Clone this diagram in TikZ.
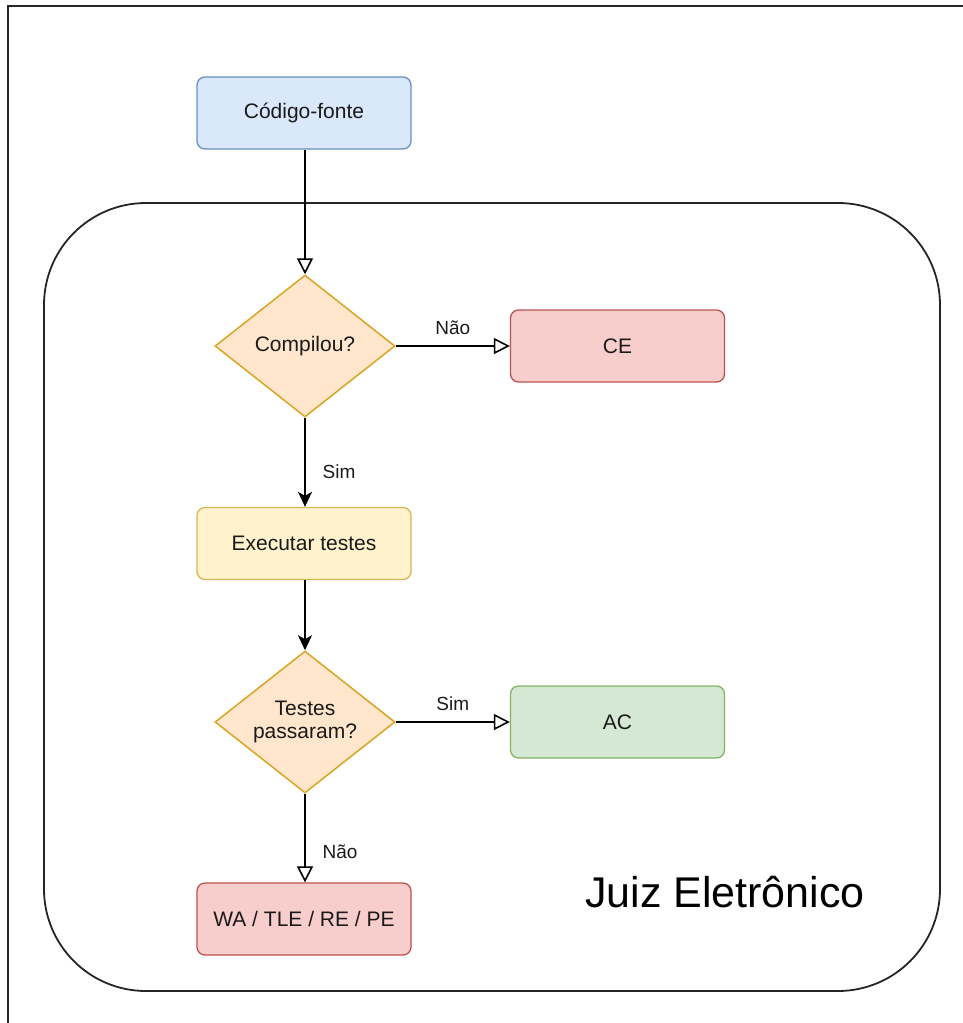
\documentclass[tikz,border=0pt]{standalone}
\usepackage{fontspec}
\setmainfont{Liberation Sans}
\usetikzlibrary{shapes.geometric,arrows.meta}
\definecolor{bluefill}{HTML}{DAE8FC}\definecolor{bluedraw}{HTML}{6C8EBF}
\definecolor{orfill}{HTML}{FFE6CC}\definecolor{ordraw}{HTML}{D9A520}
\definecolor{redfill}{HTML}{F8CECC}\definecolor{reddraw}{HTML}{B85450}
\definecolor{yelfill}{HTML}{FFF2CC}\definecolor{yeldraw}{HTML}{D6B656}
\definecolor{grfill}{HTML}{D5E8D4}\definecolor{grdraw}{HTML}{82B366}
\definecolor{txt}{HTML}{1A1A1A}
\tikzset{
  box/.style={rectangle, rounded corners=8pt, minimum width=214pt, minimum height=72pt, line width=1.3pt, font=\fontsize{21}{24}\selectfont, text=txt, inner sep=0pt},
  dec/.style={diamond, aspect=1.27, minimum width=180pt, minimum height=142pt, inner sep=0pt, line width=1.5pt, draw=ordraw, fill=orfill, font=\fontsize{21}{25}\selectfont, text=txt, align=center},
  openarr/.style={line width=1.8pt, -{Triangle[open, length=16pt, width=16pt, line width=1.6pt]}},
  fillarr/.style={line width=1.8pt, -{Stealth[length=15pt, width=14pt, inset=4pt]}},
  lbl/.style={font=\fontsize{19}{22}\selectfont, text=txt, inner sep=0pt}
}
\begin{document}
\begin{tikzpicture}[x=1pt,y=-1pt]
\useasboundingbox (0,0) rectangle (963,1023);
\begin{scope}
\clip (0,0) rectangle (963,1023);
\draw[line width=2.2pt, draw=black!85] (8,6) rectangle (1000,1060);
\end{scope}
\draw[line width=1.8pt, draw=black!85, rounded corners=102pt] (44,203) rectangle (940,991);
\node[box, fill=bluefill, draw=bluedraw] (src) at (304,113) {Código-fonte};
\node[dec] (comp) at (305,346) {Compilou?};
\node[box, fill=redfill, draw=reddraw] (ce) at (617.5,346) {CE};
\node[box, fill=yelfill, draw=yeldraw] (exec) at (304,543.5) {Executar testes};
\node[dec] (pass) at (305,722) {Testes\\[-2pt]passaram?};
\node[box, fill=grfill, draw=grdraw] (ac) at (617.5,722) {AC};
\node[box, fill=redfill, draw=reddraw] (wa) at (304,919) {WA / TLE / RE / PE};
\node[font=\fontsize{43}{48}\selectfont, anchor=base, inner sep=0pt] (juiz) at (725,907) {Juiz Eletrônico};
\draw[openarr] (src.south -| comp.north) -- (comp.north);
\draw[openarr] (comp.east) -- node[lbl, yshift=18pt] {Não} (ce.west);
\draw[fillarr] (comp.south) -- node[lbl, pos=0.6, xshift=34pt] {Sim} (exec.north -| comp.south);
\draw[fillarr] (exec.south -| pass.north) -- (pass.north);
\draw[openarr] (pass.east) -- node[lbl, yshift=18pt] {Sim} (ac.west);
\draw[openarr] (pass.south) -- node[lbl, pos=0.66, xshift=35pt] {Não} (wa.north -| pass.south);
\end{tikzpicture}
\end{document}
